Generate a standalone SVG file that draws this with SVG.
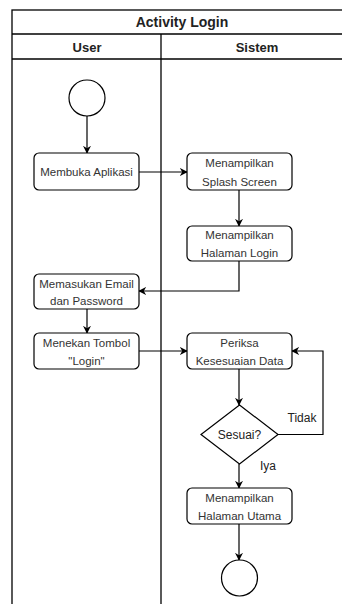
<svg xmlns="http://www.w3.org/2000/svg" width="342" height="604" viewBox="0 0 342 604">
<style>
.lane{fill:#fff;stroke:#000;stroke-width:1.3}
.node{fill:#fff;stroke:#000;stroke-width:1.2}
.t{font-family:"Liberation Sans",Arial,sans-serif;font-size:11.5px;fill:#333;text-anchor:middle}
.h{font-family:"Liberation Sans",Arial,sans-serif;font-size:13px;font-weight:bold;fill:#222;text-anchor:middle}
.ti{font-family:"Liberation Sans",Arial,sans-serif;font-size:14px;font-weight:bold;fill:#222;text-anchor:middle}
.l{font-family:"Liberation Sans",Arial,sans-serif;font-size:12px;fill:#222;text-anchor:middle}
.c{fill:none;stroke:#000;stroke-width:1.2}
</style>
<defs>
<marker id="arr" viewBox="0 0 10 10" refX="9" refY="5" markerWidth="8" markerHeight="8" markerUnits="userSpaceOnUse" orient="auto">
<path d="M0,0 L10,5 L0,10 L3,5 Z" fill="#000"/>
</marker>
</defs>
<g id="pool">
<rect class="lane" x="12" y="10" width="332" height="600"/>
<line class="lane" x1="12" y1="34" x2="344" y2="34"/>
<line class="lane" x1="12" y1="59" x2="344" y2="59"/>
<line class="lane" x1="161" y1="34" x2="161" y2="610"/>
<text class="ti" x="182" y="27">Activity Login</text>
<text class="h" x="87" y="51.5">User</text>
<text class="h" x="257" y="51.5">Sistem</text>
</g>
<g id="connectors">
<line class="c" x1="87" y1="116" x2="87" y2="153" marker-end="url(#arr)"/>
<line class="c" x1="139" y1="172" x2="187" y2="172" marker-end="url(#arr)"/>
<line class="c" x1="239" y1="190" x2="239" y2="226" marker-end="url(#arr)"/>
<polyline class="c" points="239,261 239,291 139,291" marker-end="url(#arr)"/>
<line class="c" x1="87" y1="309" x2="87" y2="333" marker-end="url(#arr)"/>
<line class="c" x1="139" y1="351" x2="187" y2="351" marker-end="url(#arr)"/>
<line class="c" x1="239" y1="369" x2="239" y2="405" marker-end="url(#arr)"/>
<polyline class="c" points="278,434.5 323,434.5 323,351 292,351" marker-end="url(#arr)"/>
<text class="l" x="302" y="422">Tidak</text>
<line class="c" x1="239" y1="464" x2="239" y2="488" marker-end="url(#arr)"/>
<text class="l" x="268" y="470">Iya</text>
<line class="c" x1="239" y1="524" x2="239" y2="560" marker-end="url(#arr)"/>
</g>
<g id="start"><circle class="node" cx="87" cy="98" r="18"/></g>
<g id="membuka"><rect class="node" x="34" y="153" width="105" height="37" rx="5"/><text class="t" x="86.5" y="176">Membuka Aplikasi</text></g>
<g id="splash"><rect class="node" x="187" y="153" width="105" height="37" rx="5"/><text class="t" x="239.5" y="167">Menampilkan</text><text class="t" x="239.5" y="186">Splash Screen</text></g>
<g id="halLogin"><rect class="node" x="187" y="226" width="105" height="35" rx="5"/><text class="t" x="239.5" y="239">Menampilkan</text><text class="t" x="239.5" y="257">Halaman Login</text></g>
<g id="email"><rect class="node" x="34" y="274" width="105" height="35" rx="5"/><text class="t" x="86.5" y="288">Memasukan Email</text><text class="t" x="86.5" y="305">dan Password</text></g>
<g id="tombol"><rect class="node" x="34" y="333" width="105" height="36" rx="5"/><text class="t" x="86.5" y="347">Menekan Tombol</text><text class="t" x="86.5" y="365">"Login"</text></g>
<g id="periksa"><rect class="node" x="187" y="333" width="105" height="36" rx="5"/><text class="t" x="239.5" y="347">Periksa</text><text class="t" x="239.5" y="365">Kesesuaian Data</text></g>
<g id="sesuai"><polygon class="node" points="239.5,405 278,434.5 239.5,464 201,434.5"/><text class="l" x="239.5" y="439">Sesuai?</text></g>
<g id="utama"><rect class="node" x="187" y="488" width="105" height="36" rx="5"/><text class="t" x="239.5" y="502">Menampilkan</text><text class="t" x="239.5" y="520">Halaman Utama</text></g>
<g id="end"><circle class="node" cx="239.5" cy="578" r="18"/></g>
</svg>
